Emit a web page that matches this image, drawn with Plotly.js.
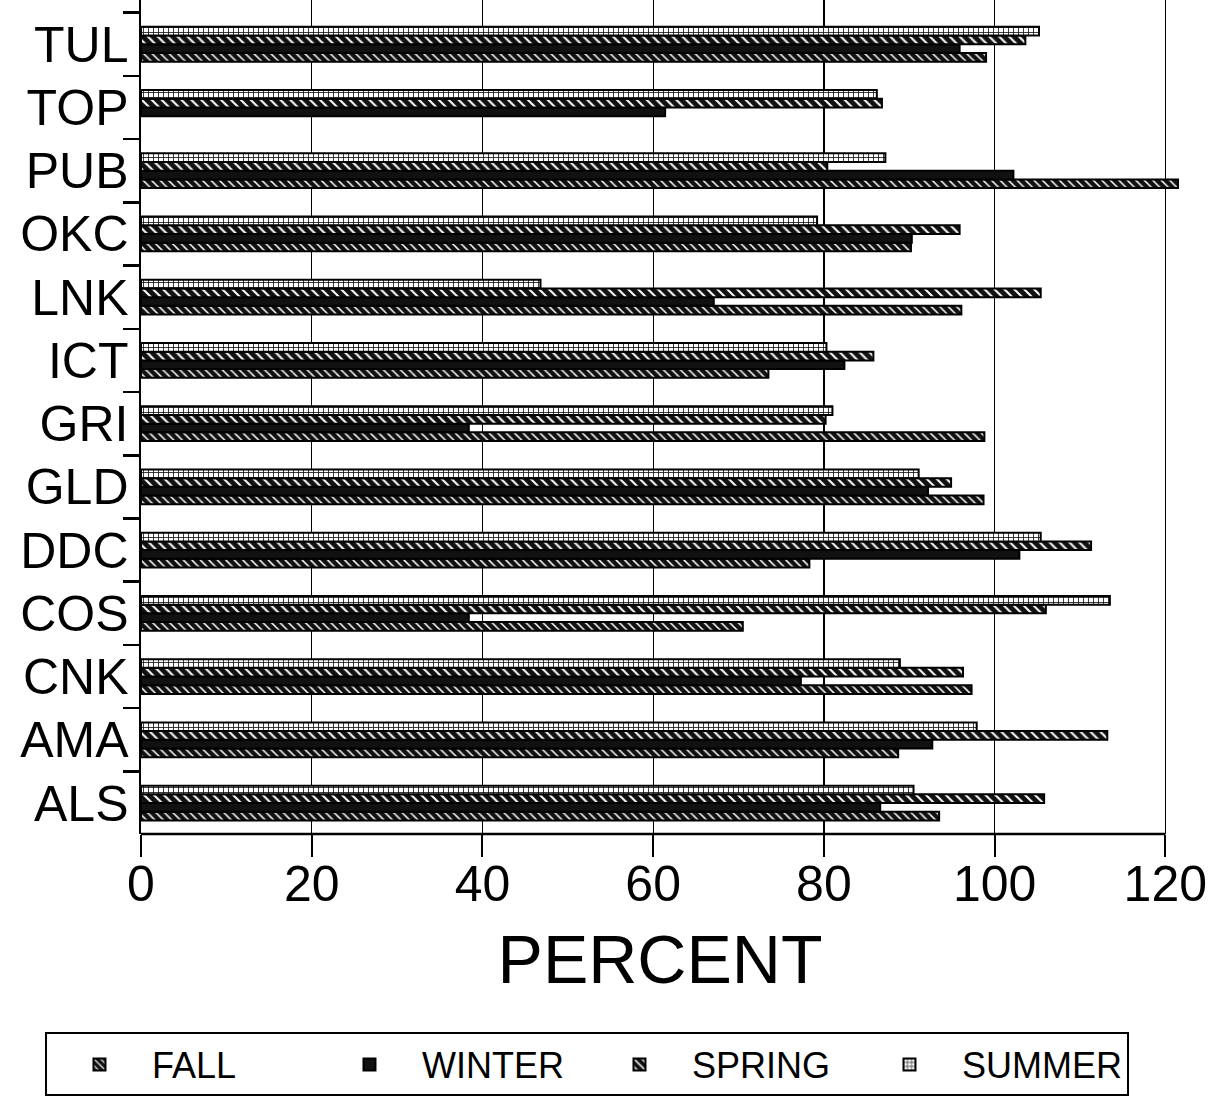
<!DOCTYPE html>
<html>
<head>
<meta charset="utf-8">
<script src="https://cdn.plot.ly/plotly-3.0.1.min.js"></script>
<style>html,body{margin:0;padding:0;background:#fff;}#chart{width:1223px;height:1108px;}</style>
</head>
<body>
<div id="chart"></div>
<script>
const stations = ["ALS","AMA","CNK","COS","DDC","GLD","GRI","ICT","LNK","OKC","PUB","TOP","TUL"];
const fall   = [93.5, 88.7, 97.3, 70.5, 78.3, 98.7, 98.8, 73.5, 96.1, 90.2, 121.5, null, 99.0];
const winter = [86.6, 92.7, 77.3, 38.4, 102.9, 92.2, 38.4, 82.4, 67.1, 90.3, 102.2, 61.4, 95.9];
const spring = [105.8, 113.2, 96.3, 106.0, 111.3, 94.9, 80.2, 85.8, 105.4, 95.9, 80.4, 86.8, 103.6];
const summer = [90.5, 97.9, 88.9, 113.5, 105.4, 91.1, 81.0, 80.3, 46.8, 79.2, 87.2, 86.2, 105.2];
const xTicks = [0, 20, 40, 60, 80, 100, 120];

const fam = "Liberation Sans, Arial, sans-serif";
const line = {color: "#000", width: 2};
const traces = [
  {name: "FALL", x: fall, y: stations, type: "bar", orientation: "h",
   marker: {color: "#111", line: line, pattern: {shape: "\\", fgcolor: "#fff", bgcolor: "#111", size: 6, solidity: 0.25}}},
  {name: "WINTER", x: winter, y: stations, type: "bar", orientation: "h",
   marker: {color: "#111", line: line}},
  {name: "SPRING", x: spring, y: stations, type: "bar", orientation: "h",
   marker: {color: "#111", line: line, pattern: {shape: "\\", fgcolor: "#fff", bgcolor: "#111", size: 7, solidity: 0.28}}},
  {name: "SUMMER", x: summer, y: stations, type: "bar", orientation: "h",
   marker: {color: "#fff", line: line, pattern: {shape: "+", fgcolor: "#111", bgcolor: "#fff", size: 5, solidity: 0.3}}}
];

const layout = {
  width: 1223, height: 1108,
  margin: {l: 141, r: 44, t: 0, b: 274},
  paper_bgcolor: "#fff", plot_bgcolor: "#fff",
  font: {family: fam, color: "#000"},
  barmode: "group", bargap: 0.45, bargroupgap: 0,
  showlegend: true,
  legend: {
    orientation: "h", x: -0.0925, xanchor: "left", y: -0.238, yanchor: "top",
    bordercolor: "#000", borderwidth: 2, bgcolor: "#fff",
    font: {size: 36, family: fam, color: "#000"},
    entrywidth: 160, entrywidthmode: "pixels", itemwidth: 95
  },
  shapes: [
    {type: "line", xref: "x", yref: "paper", x0: 0, x1: 120, y0: 0, y1: 0,
     line: {color: "#000", width: 2.5}}
  ],
  xaxis: {
    range: [0, 121.6], tickvals: xTicks, ticktext: xTicks.map(String),
    showgrid: true, gridcolor: "#000", gridwidth: 1.3,
    showline: false, zeroline: false,
    ticks: "outside", ticklen: 22, tickwidth: 2, tickcolor: "#000",
    ticklabelstandoff: -16,
    tickfont: {size: 50, family: fam},
    title: {text: "PERCENT", font: {size: 68, family: fam}, standoff: 24}
  },
  yaxis: {
    type: "category", range: [-0.49, 12.7],
    showgrid: false, showline: true, linecolor: "#000", linewidth: 2.5,
    ticks: "outside", tickson: "boundaries", ticklen: 16, tickwidth: 2.5, tickcolor: "#000",
    tickfont: {size: 50, family: fam}
  }
};

Plotly.newPlot("chart", traces, layout, {displayModeBar: false, staticPlot: true});
</script>
</body>
</html>
